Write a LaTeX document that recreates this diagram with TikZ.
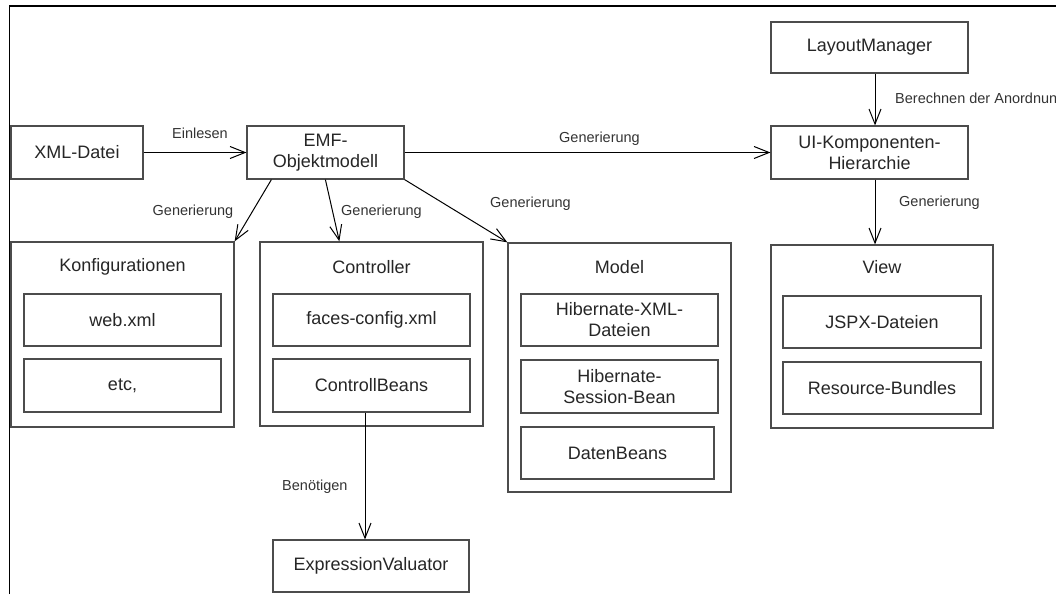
\documentclass[tikz,border=0pt]{standalone}
\usepackage{fontspec}
\setmainfont{Liberation Sans}
\usetikzlibrary{arrows.meta,calc}
\begin{document}
\begin{tikzpicture}[x=1pt,y=-1pt,
  box/.style={draw=black!70, line width=1.2pt, fill=white, inner sep=0pt,
    align=center, text=black!85, font=\fontsize{18}{21}\selectfont},
  group/.style={draw=black!70, line width=1.3pt, inner sep=0pt},
  grouptitle/.style={inner sep=0pt, text=black!85, font=\fontsize{18}{21}\selectfont},
  lbl/.style={inner sep=0pt, text=black!80, font=\fontsize{14.5}{17}\selectfont},
  conn/.style={draw=black, line width=1pt,
    -{Straight Barb[length=15pt,width=12pt,line width=1pt]}},
]
\useasboundingbox (0,0) rectangle (1056,594);

% outer frame (top and left edges)
\draw[line width=1.6pt] (9.5,594) -- (9.5,6) -- (1056,6);

% top row
\node[box, minimum width=132pt, minimum height=53pt] (xml) at (77,152.5) {XML-Datei};
\node[box, minimum width=157pt, minimum height=53pt] (emf) at (325.5,152.5) {EMF-\\Objektmodell};
\node[box, minimum width=197pt, minimum height=51pt] (layout) at (869.5,47.5) {LayoutManager};
\node[box, minimum width=197pt, minimum height=53pt] (ui) at (869.5,152.5) {UI-Komponenten-\\Hierarchie};

% Konfigurationen
\node[group, minimum width=223pt, minimum height=185pt] (konf) at (122.5,334.5) {};
\node[grouptitle] (konftitle) at (122.5,267) {Konfigurationen};
\node[box, minimum width=197pt, minimum height=52pt] (web) at (122.5,320) {web.xml};
\node[box, minimum width=197pt, minimum height=53pt] (etc) at (122.5,385.5) {etc,};

% Controller
\node[group, minimum width=223pt, minimum height=184pt] (ctrl) at (371.5,334) {};
\node[grouptitle] (ctrltitle) at (371.5,267) {Controller};
\node[box, minimum width=197pt, minimum height=52pt] (faces) at (371.5,320) {faces-config.xml};
\node[box, minimum width=197pt, minimum height=53pt] (cbeans) at (371.5,385.5) {ControllBeans};

% Model
\node[group, minimum width=223pt, minimum height=249pt] (model) at (619.5,367.5) {};
\node[grouptitle] (modeltitle) at (619.5,267) {Model};
\node[box, minimum width=197pt, minimum height=52pt] (hibxml) at (619.5,320) {Hibernate-XML-\\Dateien};
\node[box, minimum width=197pt, minimum height=53pt] (hibsess) at (619.5,386.5) {Hibernate-\\Session-Bean};
\node[box, minimum width=193pt, minimum height=52pt] (daten) at (617.5,453) {DatenBeans};

% View
\node[group, minimum width=222pt, minimum height=183pt] (view) at (882,336.5) {};
\node[grouptitle] (viewtitle) at (882,267) {View};
\node[box, minimum width=198pt, minimum height=52pt] (jspx) at (882,322) {JSPX-Dateien};
\node[box, minimum width=198pt, minimum height=52pt] (res) at (882,388) {Resource-Bundles};

% ExpressionValuator
\node[box, minimum width=196pt, minimum height=52pt] (expr) at (371,566) {ExpressionValuator};

% connectors
\draw[conn] (xml.east) -- (emf.west);
\draw[conn] (emf.east) -- (ui.west);
\draw[conn] ([xshift=5.5pt]layout.south) -- ([xshift=5.5pt]ui.north);
\draw[conn] ([xshift=5.5pt]ui.south) -- ([xshift=-7pt]view.north);
\draw[conn] ([xshift=25pt]emf.south west) -- (konf.north east);
\draw[conn] ([xshift=79pt]emf.south west) -- ([xshift=80pt]ctrl.north west);
\draw[conn] (emf.south east) -- (model.north west);
\draw[conn] ([xshift=-6.5pt]cbeans.south) -- ([xshift=-6pt]expr.north);

% connector labels
\node[lbl] (leinlesen) at (200,133) {Einlesen};
\node[lbl] (lgenui) at (599.5,139) {Generierung};
\node[lbl, anchor=west] (lberechnen) at (895,100) {Berechnen der Anordnung};
\node[lbl] (lgenkonf) at (193,212) {Generierung};
\node[lbl, anchor=west] (lgenctrl) at (341,212) {Generierung};
\node[lbl, anchor=west] (lgenmodel) at (490,204) {Generierung};
\node[lbl, anchor=west] (lgenview) at (899,203) {Generierung};
\node[lbl, anchor=west] (lbenoetigen) at (282,487) {Benötigen};
\end{tikzpicture}
\end{document}
